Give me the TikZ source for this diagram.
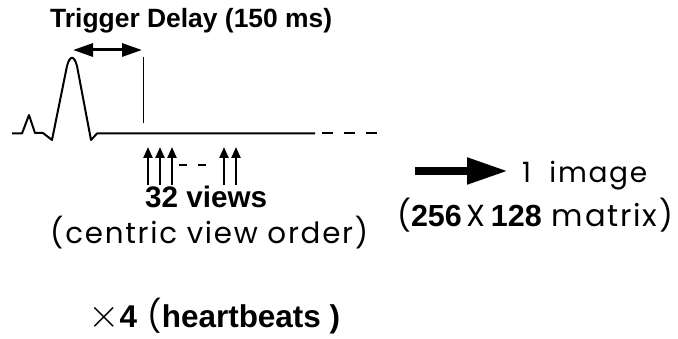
\documentclass[tikz,border=0pt]{standalone}
\usepackage{fontspec}
\setmainfont{Poppins}[LetterSpace=6]
\newfontfamily\hsans{Liberation Sans}
\usetikzlibrary{arrows.meta}

% bold sans and geometric regular faces
\newcommand{\hb}[1]{{\hsans\bfseries #1}}
\newcommand{\fitto}[2]{\resizebox{#1}{!}{\fontsize{28}{32}\selectfont #2}}

\begin{document}
\begin{tikzpicture}[x=1pt,y=-1pt,
  ecg/.style={line width=2pt, line join=round, line cap=butt},
  lbl/.style={inner sep=0pt, anchor=base west},
  viewarrow/.style={line width=2.2pt, -{Triangle[length=11pt,width=9pt]}},
  delayarrow/.style={line width=3pt, {Triangle[length=20pt,width=13pt]}-{Triangle[length=20pt,width=13pt]}},
  bigarrow/.style={line width=8pt, -{Triangle[length=41pt,width=25pt]}}]
\useasboundingbox (0,0) rectangle (678,339);

% labels
\node[lbl] (title) at (50,28) {\fitto{282pt}{\hb{Trigger Delay (150 ms)}}};
\node[lbl] (views) at (145,208) {\fitto{122pt}{\hb{32 views}}};
\node[lbl] (order) at (50,244) {\fitto{318pt}{(centric view order)}};
\node[lbl] (image) at (522,183) {\fitto{125pt}{1\ \ image}};
\node[lbl] (matrix) at (397,227) {\fitto{276pt}{(\hb{256}\,X\,\hb{128} matrix)}};
\node[lbl] (beats) at (88,327) {\fitto{252pt}{\scalebox{1.45}{$\times$}\hb{4}\ (\hb{heartbeats )}}};

% ECG trace
\draw[ecg] (12,133.5) -- (22,133.5) -- (29,115) -- (35,133) -- (43,133) -- (52,140)
  -- (67,66) .. controls (70,55) and (74,55) .. (77,66)
  -- (91,140) -- (97,133.5) -- (315,133.5);
\draw[ecg, dash pattern=on 11pt off 11pt] (322,133.5) -- (388,133.5);

% trigger marker and delay span
\coordinate (trigtop) at (143,57);
\coordinate (trigbot) at (143,123);
\draw[line width=1pt] (trigtop) -- (trigbot);
\coordinate (dl) at (73,50);
\coordinate (dr) at (142,50);
\draw[delayarrow] (dl) -- (dr);

% acquired views
\foreach \x [count=\i] in {148,160,172,224,236} {
  \coordinate (vb\i) at (\x,185);
  \coordinate (vt\i) at (\x,147);
  \draw[viewarrow] (vb\i) -- (vt\i);
}
\draw[line width=2pt] (179,165) -- (187,165) (198,165) -- (206,165);

% reconstruction arrow
\coordinate (ra) at (415,171);
\coordinate (rb) at (508,171);
\draw[bigarrow] (ra) -- (rb);
\end{tikzpicture}
\end{document}
